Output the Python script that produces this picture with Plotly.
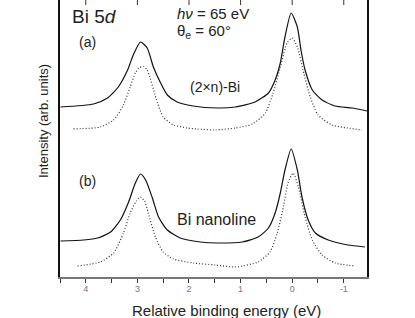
import plotly.graph_objects as go

# ---- data (relative binding energy in eV, intensity in arb. units) ----
energy_a_exp = [4.49, 3.85, 3.58, 3.37, 3.19, 3.08, 2.94, 2.81, 2.69, 2.55, 2.42, 2.23, 1.92, 1.45,
                1.10, 0.72, 0.46, 0.33, 0.23, 0.14, 0.02, -0.10, -0.17, -0.25, -0.39, -0.58, -0.83, -1.16, -1.45]
intensity_a_exp = [17.0, 17.3, 17.9, 19.0, 20.7, 22.2, 23.5, 22.9, 21.0, 19.4, 18.2, 17.5, 17.1, 16.9,
                   17.0, 17.5, 18.4, 19.7, 21.4, 24.0, 26.4, 25.0, 22.7, 20.7, 18.7, 17.7, 17.1, 16.9, 16.6]

energy_a_ref = [4.24, 3.72, 3.46, 3.27, 3.14, 3.04, 2.96, 2.88, 2.81, 2.61, 2.50, 2.30, 2.03, 1.84, 1.49,
                1.10, 0.77, 0.52, 0.37, 0.23, 0.10, 0.00, -0.10, -0.21, -0.35, -0.50, -0.77, -1.08, -1.35]
intensity_a_ref = [14.8, 15.0, 15.7, 17.2, 19.0, 20.4, 20.95, 21.05, 20.7, 17.4, 16.0, 15.2, 14.9, 14.8, 14.7,
                   14.9, 15.3, 16.4, 18.4, 21.0, 23.4, 23.9, 23.0, 20.7, 18.0, 16.2, 15.2, 14.9, 14.7]

energy_b_exp = [4.49, 4.04, 3.77, 3.52, 3.33, 3.17, 3.04, 2.94, 2.84, 2.71, 2.59, 2.42, 2.17, 1.78, 1.45,
                0.97, 0.66, 0.46, 0.33, 0.23, 0.14, 0.02, -0.10, -0.19, -0.31, -0.45, -0.70, -1.08, -1.41]
intensity_b_exp = [3.6, 3.7, 3.9, 4.5, 5.7, 7.5, 9.4, 10.3, 9.7, 7.9, 6.0, 4.7, 3.9, 3.5, 3.4,
                   3.5, 4.0, 4.9, 6.4, 8.4, 10.7, 12.8, 10.7, 8.0, 5.7, 4.4, 3.7, 3.2, 3.0]

energy_b_ref = [4.16, 3.72, 3.46, 3.27, 3.14, 3.02, 2.94, 2.86, 2.79, 2.65, 2.50, 2.30, 1.92, 1.49,
                1.10, 0.66, 0.43, 0.29, 0.17, 0.08, -0.02, -0.12, -0.25, -0.39, -0.58, -0.83, -1.22]
intensity_b_ref = [1.1, 1.5, 2.4, 4.4, 6.4, 7.6, 8.0, 7.6, 6.4, 4.0, 2.5, 1.8, 1.4, 1.2,
                   1.0, 1.5, 2.5, 4.4, 7.0, 9.4, 10.4, 9.0, 6.0, 3.7, 2.2, 1.4, 1.1]

x_tick_vals = [4, 3, 2, 1, 0, -1]
x_tick_text = ["4", "3", "2", "1", "0", "-1"]

FONT = "Arial, Liberation Sans, sans-serif"

fig = go.Figure()

exp_line = dict(color="#111111", width=1.2, shape="spline", smoothing=0.6)
ref_line = dict(color="#333333", width=1.2, dash="1px,2px", shape="spline", smoothing=0.6)

fig.add_trace(go.Scatter(x=energy_a_exp, y=intensity_a_exp, mode="lines", line=exp_line, showlegend=False))
fig.add_trace(go.Scatter(x=energy_a_ref, y=intensity_a_ref, mode="lines", line=ref_line, showlegend=False))
fig.add_trace(go.Scatter(x=energy_b_exp, y=intensity_b_exp, mode="lines", line=exp_line, showlegend=False))
fig.add_trace(go.Scatter(x=energy_b_ref, y=intensity_b_ref, mode="lines", line=ref_line, showlegend=False))

L, R, B, T = 60, 367, 277, 0
W, H = 415, 318


def pxx(x):
    return (x - L) / (R - L)


def pxy(y):
    return (B - y) / (B - T)


x_range = [4.5, -1.45]

fig.update_layout(
    width=W, height=H,
    margin=dict(l=L, r=W - R, t=T, b=H - B),
    paper_bgcolor="white", plot_bgcolor="white",
    font=dict(family=FONT, color="#222"),
    xaxis=dict(range=x_range, tickvals=x_tick_vals, ticktext=x_tick_text,
               ticks="outside", ticklen=4, tickwidth=1, tickcolor="#333",
               minor=dict(dtick=0.5, tick0=0, ticks="outside", ticklen=4, tickwidth=1, tickcolor="#333"),
               showline=True, linecolor="#777", linewidth=2, mirror=False,
               showgrid=False, zeroline=False, ticklabelstandoff=-2,
               tickfont=dict(size=9, color="#777", family=FONT)),
    yaxis=dict(range=[0, 27.7], showticklabels=False, ticks="",
               showline=True, linecolor="#111", linewidth=1.5, mirror=True,
               showgrid=False, zeroline=False),
)

# inward tick marks along the (cropped) top edge
for v in x_tick_vals:
    fig.add_shape(type="line", xref="x", yref="paper", x0=v, x1=v, y0=1, y1=1 - 5 / (B - T),
                  line=dict(color="#333", width=1))

ann = [
    dict(text="Bi 5<i>d</i>", x=pxx(70), y=pxy(16), xanchor="left", size=19),
    dict(text="<i>hν</i> = 65 eV", x=pxx(175), y=pxy(13), xanchor="left", size=15),
    dict(text="θ<sub>e</sub> = 60°", x=pxx(175), y=pxy(31), xanchor="left", size=15),
    dict(text="(a)", x=pxx(77), y=pxy(42), xanchor="left", size=14),
    dict(text="(2×n)-Bi", x=pxx(188), y=pxy(87), xanchor="left", size=14),
    dict(text="(b)", x=pxx(77), y=pxy(181), xanchor="left", size=14),
    dict(text="Bi nanoline", x=pxx(175), y=pxy(219), xanchor="left", size=16),
    dict(text="Relative binding energy (eV)", x=pxx(226), y=pxy(310), xanchor="center", size=15),
]
for a in ann:
    fig.add_annotation(text=a["text"], x=a["x"], y=a["y"], xref="paper", yref="paper",
                       xanchor=a["xanchor"], yanchor="middle", showarrow=False,
                       font=dict(size=a["size"], family=FONT, color="#222"))

fig.add_annotation(text="Intensity (arb. units)", x=pxx(43), y=pxy(121), xref="paper", yref="paper",
                   xanchor="center", yanchor="middle", textangle=-90, showarrow=False,
                   font=dict(size=13, family=FONT, color="#222"))

fig.write_html("out.html", config={"displayModeBar": False},
               post_script="document.body.style.margin='0px';")
